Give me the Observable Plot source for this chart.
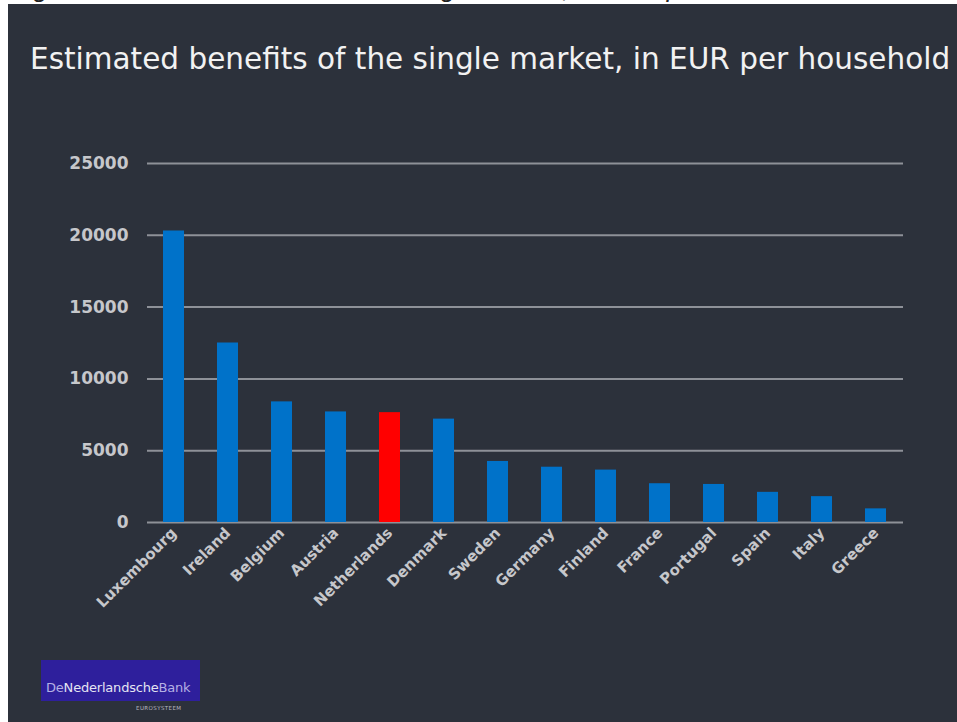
<!DOCTYPE html>
<html>
<head>
<meta charset="utf-8">
<script src="https://cdn.jsdelivr.net/npm/d3@7"></script>
<script src="https://cdn.jsdelivr.net/npm/@observablehq/plot@0.6"></script>
<style>
  html, body { margin: 0; padding: 0; background: #ffffff; }
  body { width: 957px; height: 722px; position: relative; overflow: hidden; font-family: "DejaVu Sans", Verdana, sans-serif; }
  #cap { position: absolute; left: 0; top: 0; width: 957px; height: 4px; overflow: hidden; }
  #cap span { position: absolute; left: 12px; top: -27px; font-style: italic; font-size: 26px; line-height: 30px; color: #222; white-space: nowrap; font-family: "Liberation Sans", sans-serif; }
  #panel { position: absolute; left: 8px; top: 4px; width: 949px; height: 718px; background: #2c313b; }
  #title { position: absolute; left: 30px; top: 41px; font-size: 29.5px; line-height: 36px; color: #f2f2f2; white-space: nowrap; }
  #chart { position: absolute; left: 8px; top: 100px; }
  #logo { position: absolute; left: 41px; top: 660px; width: 159px; height: 41px; background: #2e1f9c; }
  #logo span.t { position: absolute; left: 5px; top: 20px; font-size: 13px; line-height: 16px; color: #e4e4f2; white-space: nowrap; letter-spacing: -0.2px; }
  #logo .lt { color: #b4b0e4; }
  #euro { position: absolute; left: 136px; top: 705px; font-size: 5.5px; color: #b8b8c0; letter-spacing: 0.4px; }
</style>
</head>
<body>
<div id="cap"><span>Figure 1 Estimated benefits of the single market, in EUR per household</span></div>
<div id="panel"></div>
<div id="title">Estimated benefits of the single market, in EUR per household</div>
<div id="chart"></div>
<div id="logo"><span class="t"><span class="lt">De</span>Nederlandsche<span class="lt">Bank</span></span></div>
<div id="euro">EUROSYSTEEM</div>
<script>
const countries = ["Luxembourg", "Ireland", "Belgium", "Austria", "Netherlands", "Denmark", "Sweden", "Germany", "Finland", "France", "Portugal", "Spain", "Italy", "Greece"];
const values = [20300, 12500, 8400, 7700, 7650, 7200, 4250, 3850, 3650, 2700, 2650, 2100, 1800, 950];
const highlight = "Netherlands";
const yTicks = [0, 5000, 10000, 15000, 20000, 25000];

const data = countries.map((c, i) => ({country: c, value: values[i]}));

const chart = Plot.plot({
  width: 949,
  height: 620,
  marginLeft: 139,
  marginRight: 54,
  marginTop: 63,
  marginBottom: 198,
  style: {background: "transparent", color: "#c6c7cb", fontFamily: "DejaVu Sans, Verdana, sans-serif"},
  x: {domain: countries, paddingInner: 0.61, paddingOuter: 0.305, label: null},
  y: {domain: [0, 25000], label: null},
  marks: [
    Plot.ruleY(yTicks, {stroke: "#8e9198", strokeWidth: 2}),
    Plot.barY(data, {x: "country", y: "value", fill: d => d.country === highlight ? "#ff0000" : "#0072c9"}),
    Plot.axisY({ticks: yTicks, tickFormat: d => String(d), tickSize: 0, tickPadding: 19, fontSize: 17, fontWeight: "bold", label: null}),
    Plot.axisX({tickRotate: -45, tickSize: 0, tickPadding: 8, fontSize: 15, fontWeight: "bold", label: null})
  ]
});
document.getElementById("chart").appendChild(chart);
</script>
</body>
</html>
